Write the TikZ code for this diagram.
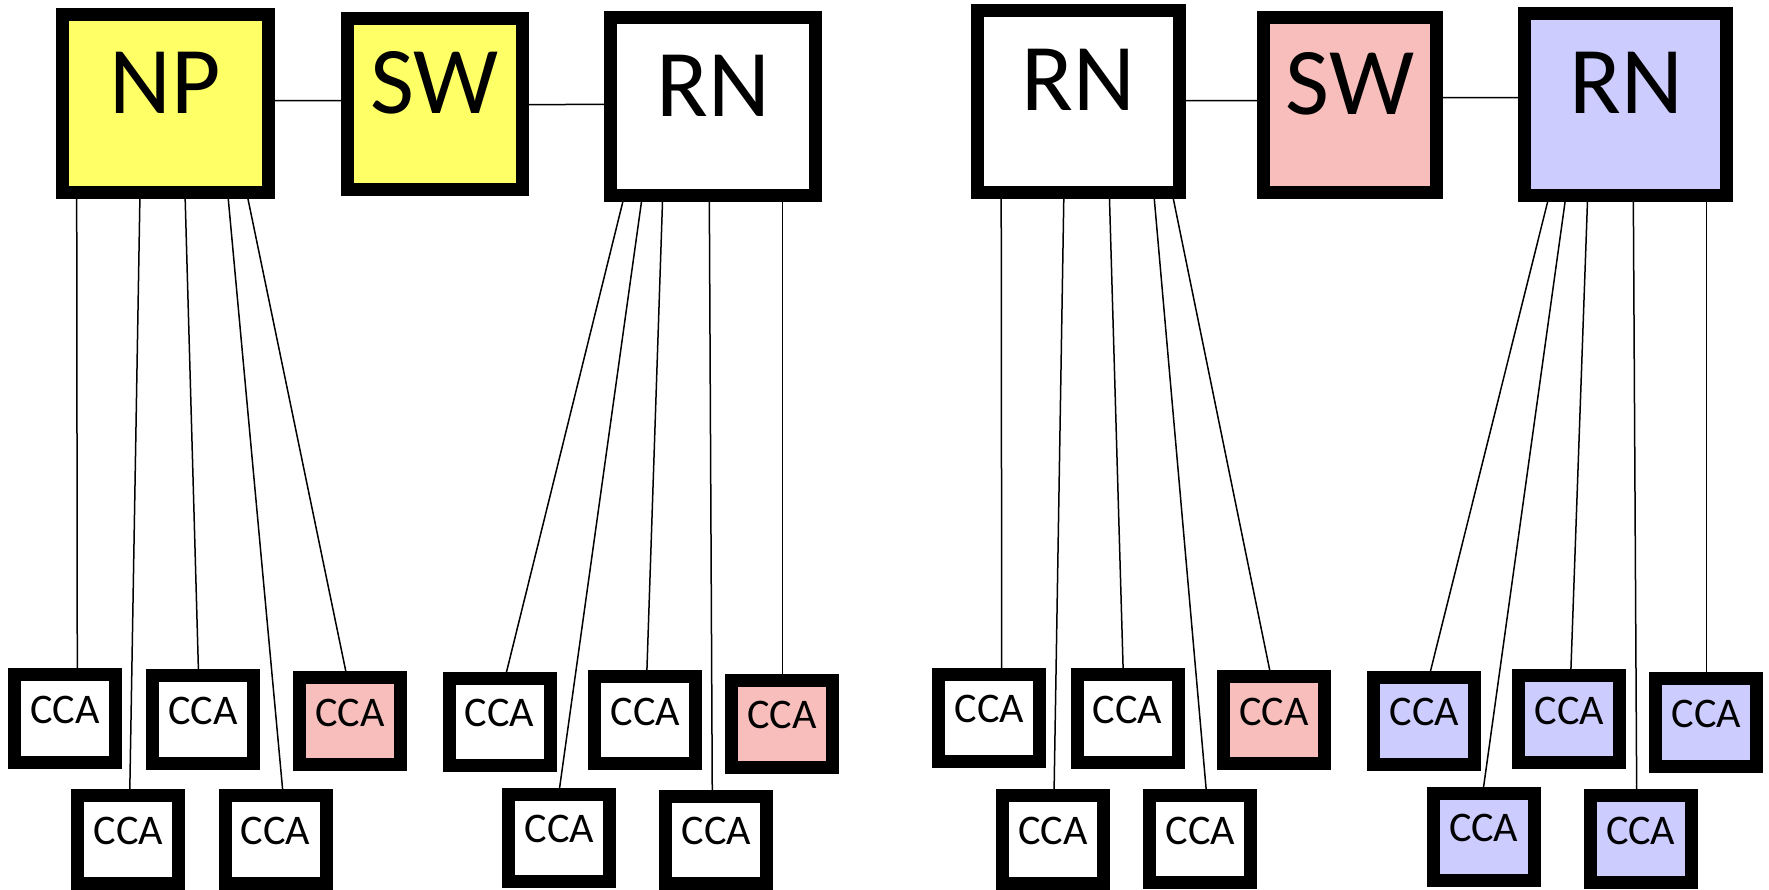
\documentclass[tikz,border=0pt]{standalone}
\usepackage{fontspec}
\setmainfont{Carlito}
\definecolor{npyellow}{RGB}{255,255,102}
\definecolor{swpink}{RGB}{247,190,188}
\definecolor{rnblue}{RGB}{204,204,255}
\tikzset{
  bigbox/.style={draw=black, line width=13pt, inner sep=0pt, outer sep=0pt,
    font=\fontsize{95.6pt}{100pt}\selectfont, text height=60.4pt, text depth=41.8pt},
  ccabox/.style={draw=black, line width=13pt, inner sep=0pt, outer sep=0pt,
    minimum width=101pt, minimum height=87.5pt,
    font=\fontsize{42.2pt}{46pt}\selectfont, text height=26.7pt, text depth=17.1pt},
  link/.style={draw=black, line width=1.5pt},
}
\begin{document}
\begin{tikzpicture}[x=1pt, y=-1pt]
\useasboundingbox (0,0) rectangle (1769,890);

% upper row: access nodes and switches
\node[bigbox, fill=npyellow, minimum width=205.2pt, minimum height=178pt] (NP) at (165.5,103.8) {NP};
\node[bigbox, fill=npyellow, minimum width=175.6pt, minimum height=171.2pt] (SWa) at (434.9,104.1) {SW};
\node[bigbox, fill=white, minimum width=205.5pt, minimum height=178.1pt] (RNa) at (713.1,106.8) {RN};
\node[bigbox, fill=white, minimum width=201.9pt, minimum height=181.7pt] (RNb) at (1078.6,101.5) {RN};
\node[bigbox, fill=swpink, minimum width=173.7pt, minimum height=174.5pt] (SWb) at (1350,105.1) {SW};
\node[bigbox, fill=rnblue, minimum width=202.1pt, minimum height=181.7pt] (RNc) at (1625.9,104.2) {RN};

% lower rows: CCA leaves
\node[ccabox, fill=white]  (c1)  at (64.9,718.7) {CCA};
\node[ccabox, fill=white]  (c2)  at (203,719.7) {CCA};
\node[ccabox, fill=swpink] (c3)  at (349.75,721.2) {CCA};
\node[ccabox, fill=white]  (c4)  at (128.4,839.7) {CCA};
\node[ccabox, fill=white]  (c5)  at (275.7,839.5) {CCA};
\node[ccabox, fill=white]  (c6)  at (499.7,721.8) {CCA};
\node[ccabox, fill=white]  (c7)  at (645.3,720.2) {CCA};
\node[ccabox, fill=swpink] (c8)  at (782.2,723.8) {CCA};
\node[ccabox, fill=white]  (c9)  at (559.3,838) {CCA};
\node[ccabox, fill=white]  (c10) at (716.3,840) {CCA};
\node[ccabox, fill=white]  (c11) at (989.3,717.8) {CCA};
\node[ccabox, fill=white]  (c12) at (1127.5,718.7) {CCA};
\node[ccabox, fill=swpink] (c13) at (1274.2,720.2) {CCA};
\node[ccabox, fill=white]  (c14) at (1052.8,839.3) {CCA};
\node[ccabox, fill=white]  (c15) at (1200.3,839.2) {CCA};
\node[ccabox, fill=rnblue] (c16) at (1424.2,720.8) {CCA};
\node[ccabox, fill=rnblue] (c17) at (1569.3,719.2) {CCA};
\node[ccabox, fill=rnblue] (c18) at (1706.3,722.5) {CCA};
\node[ccabox, fill=rnblue] (c19) at (1483.7,837) {CCA};
\node[ccabox, fill=rnblue] (c20) at (1640.7,839.2) {CCA};

% horizontal links between the upper boxes
\draw[link] ([yshift=3.1pt]NP.east) -- ([yshift=3.4pt]SWa.west);
\draw[link] ([yshift=-0.6pt]SWa.east) -- ([yshift=2.5pt]RNa.west);
\draw[link] ([yshift=0.8pt]RNb.east) -- ([yshift=4.4pt]SWb.west);
\draw[link] ([yshift=7.4pt]SWb.east) -- ([yshift=6.5pt]RNc.west);

% NP fan-out
\draw[link] ([xshift=-88.8pt]NP.south) -- ([xshift=12.4pt]c1.north);
\draw[link] ([xshift=-25.5pt]NP.south) -- ([xshift=1.3pt]c4.north);
\draw[link] ([xshift=19.5pt]NP.south)  -- ([xshift=-4.4pt]c2.north);
\draw[link] ([xshift=62.2pt]NP.south)  -- ([xshift=7.5pt]c5.north);
\draw[link] ([xshift=81.2pt]NP.south)  -- ([xshift=-2.65pt]c3.north);

% first RN fan-out
\draw[link] ([xshift=-88.8pt]RNa.south) -- ([xshift=5.3pt]c6.north);
\draw[link] ([xshift=-70.8pt]RNa.south) -- ([xshift=-0.6pt]c9.north);
\draw[link] ([xshift=-50.4pt]RNa.south) -- ([xshift=1.4pt]c7.north);
\draw[link] ([xshift=-3.8pt]RNa.south)  -- ([xshift=-4pt]c10.north);
\draw[link] ([xshift=69.2pt]RNa.south)  -- ([xshift=0.1pt]c8.north);

% second RN fan-out
\draw[link] ([xshift=-77.4pt]RNb.south) -- ([xshift=12.4pt]c11.north);
\draw[link] ([xshift=-14.7pt]RNb.south) -- ([xshift=1.2pt]c14.north);
\draw[link] ([xshift=30.7pt]RNb.south)  -- ([xshift=-4.2pt]c12.north);
\draw[link] ([xshift=75.1pt]RNb.south)  -- ([xshift=6.4pt]c15.north);
\draw[link] ([xshift=93.4pt]RNb.south)  -- ([xshift=-3.2pt]c13.north);

% third RN fan-out
\draw[link] ([xshift=-76.6pt]RNc.south) -- ([xshift=4.8pt]c16.north);
\draw[link] ([xshift=-59.9pt]RNc.south) -- ([xshift=-1pt]c19.north);
\draw[link] ([xshift=-38.2pt]RNc.south) -- ([xshift=1.4pt]c17.north);
\draw[link] ([xshift=7.4pt]RNc.south)   -- ([xshift=-4pt]c20.north);
\draw[link] ([xshift=80.8pt]RNc.south)  -- ([xshift=0.4pt]c18.north);
\end{tikzpicture}
\end{document}
